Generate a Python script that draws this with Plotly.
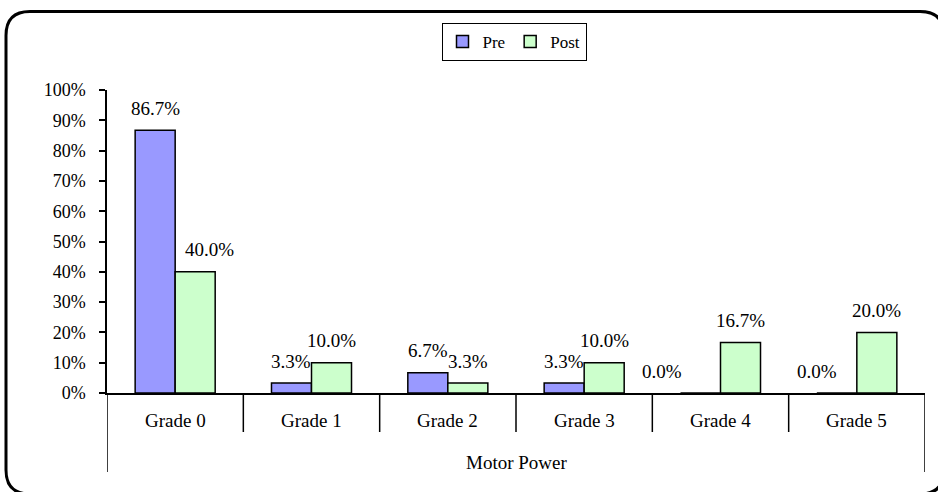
import plotly.graph_objects as go

categories = ["Grade 0", "Grade 1", "Grade 2", "Grade 3", "Grade 4", "Grade 5"]
group_label = "Motor Power"
pre_values = [0.867, 0.033, 0.067, 0.033, 0.0, 0.0]
post_values = [0.400, 0.100, 0.033, 0.100, 0.167, 0.200]
series_names = ["Pre", "Post"]
series_colors = ["#9999FF", "#CCFFCC"]

W, H = 938, 492
ML, MR, MT, MB = 107, 13, 90, 99
PW, PH = W - ML - MR, H - MT - MB
BARGAP = 0.413
FONT = "'Liberation Serif', 'Times New Roman', 'DejaVu Serif', serif"

def py(px):  # pixel y -> paper y
    return (H - MB - px) / PH

def pxx(px):  # pixel x -> paper x
    return (px - ML) / PW

fig = go.Figure()
for name, vals, col in zip(series_names, [pre_values, post_values], series_colors):
    fig.add_trace(go.Bar(
        name=name, x=categories, y=vals,
        marker=dict(color=col, line=dict(color="black", width=1.5)),
    ))

# data labels
half = (1 - BARGAP) / 4
label_nudge = {("Post", 0): 14, ("Pre", 4): -38, ("Pre", 5): -20}
annotations = []
for si, (name, vals) in enumerate(zip(series_names, [pre_values, post_values])):
    off = -half if si == 0 else half
    for i, v in enumerate(vals):
        annotations.append(dict(
            x=i + off, y=v, xref="x", yref="y", text=f"{v*100:.1f}%",
            showarrow=False, yanchor="middle", yshift=22,
            xshift=label_nudge.get((name, i), 0),
            font=dict(family=FONT, size=19, color="black"),
        ))

# category labels and group label
for i, c in enumerate(categories):
    annotations.append(dict(
        x=i, y=py(420), xref="x", yref="paper", text=c, showarrow=False,
        yanchor="middle", font=dict(family=FONT, size=19, color="black"),
    ))
annotations.append(dict(
    x=(len(categories) - 1) / 2, y=py(462), xref="x", yref="paper", text=group_label,
    showarrow=False, yanchor="middle", font=dict(family=FONT, size=19, color="black"),
))

shapes = []
for i in range(1, len(categories)):
    shapes.append(dict(type="line", xref="x", yref="paper", x0=i - 0.5, x1=i - 0.5,
                       y0=0, y1=py(432), line=dict(color="black", width=1.5)))
for xb in (-0.5, len(categories) - 0.5):
    shapes.append(dict(type="line", xref="x", yref="paper", x0=xb, x1=xb,
                       y0=0, y1=py(472), line=dict(color="black", width=1.5)))

# rounded outer frame (decoration), partly running off the canvas as in the reference
L, R, T, B, r = 6, 944, 11.5, 494, 24
path = (f"M {pxx(L+r)},{py(T)} L {pxx(R-r)},{py(T)} "
        f"Q {pxx(R)},{py(T)} {pxx(R)},{py(T+r)} "
        f"L {pxx(R)},{py(B-r)} Q {pxx(R)},{py(B)} {pxx(R-r)},{py(B)} "
        f"L {pxx(L+r)},{py(B)} Q {pxx(L)},{py(B)} {pxx(L)},{py(B-r)} "
        f"L {pxx(L)},{py(T+r)} Q {pxx(L)},{py(T)} {pxx(L+r)},{py(T)} Z")
shapes.append(dict(type="path", xref="paper", yref="paper", path=path,
                   line=dict(color="black", width=3), layer="above"))

fig.update_layout(
    width=W, height=H,
    margin=dict(l=ML, r=MR, t=MT, b=MB, pad=0),
    paper_bgcolor="white", plot_bgcolor="white",
    barmode="group", bargap=BARGAP, bargroupgap=0,
    font=dict(family=FONT, size=18, color="black"),
    showlegend=True,
    legend=dict(orientation="h", x=pxx(514), xanchor="center", y=py(42), yanchor="middle",
                bordercolor="black", borderwidth=1, bgcolor="white",
                font=dict(family=FONT, size=17), itemwidth=30,
                tracegroupgap=0),
    xaxis=dict(type="category", range=[-0.5, len(categories) - 0.5],
               showticklabels=False, ticks="", showline=True, linecolor="black",
               linewidth=1.5, showgrid=False, zeroline=False, fixedrange=True),
    yaxis=dict(range=[0, 1], dtick=0.1, tickformat=".0%", ticks="outside", ticklen=6,
               tickwidth=1.5, tickcolor="black", showline=True, linecolor="black",
               linewidth=1.5, showgrid=False, zeroline=False,
               ticklabelstandoff=10, tickfont=dict(family=FONT, size=18)),
    annotations=annotations, shapes=shapes,
)

fig.write_html("out.html", config={"displayModeBar": False},
               post_script="document.body.style.margin='0';")
